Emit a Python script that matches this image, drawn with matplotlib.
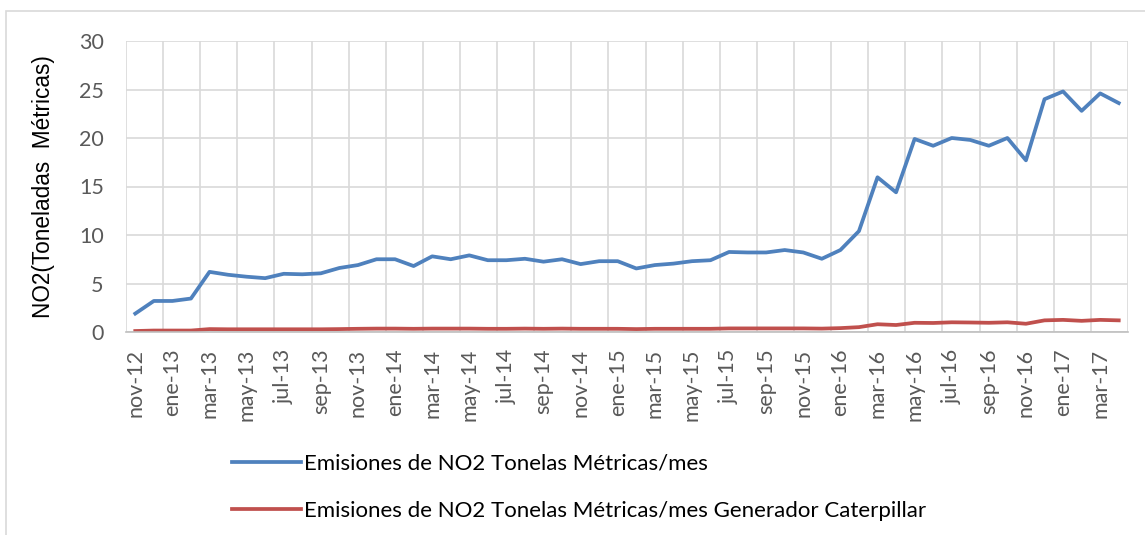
"""NO2 monthly emissions, nov-12 to apr-17."""

import matplotlib
matplotlib.use("Agg")
import matplotlib.pyplot as plt
from matplotlib.patches import Rectangle

months = [
    "nov-12", "dic-12", "ene-13", "feb-13", "mar-13", "abr-13", "may-13", "jun-13",
    "jul-13", "ago-13", "sep-13", "oct-13", "nov-13", "dic-13", "ene-14", "feb-14",
    "mar-14", "abr-14", "may-14", "jun-14", "jul-14", "ago-14", "sep-14", "oct-14",
    "nov-14", "dic-14", "ene-15", "feb-15", "mar-15", "abr-15", "may-15", "jun-15",
    "jul-15", "ago-15", "sep-15", "oct-15", "nov-15", "dic-15", "ene-16", "feb-16",
    "mar-16", "abr-16", "may-16", "jun-16", "jul-16", "ago-16", "sep-16", "oct-16",
    "nov-16", "dic-16", "ene-17", "feb-17", "mar-17", "abr-17",
]

no2_total = [
    1.9, 3.2, 3.2, 3.45, 6.2, 5.9, 5.7, 5.55, 6.0, 5.95, 6.05, 6.6,
    6.9, 7.5, 7.5, 6.8, 7.8, 7.5, 7.9, 7.4, 7.4, 7.55, 7.25, 7.5,
    7.0, 7.3, 7.3, 6.55, 6.9, 7.05, 7.3, 7.4, 8.25, 8.2, 8.2, 8.45,
    8.2, 7.55, 8.45, 10.4, 15.95, 14.4, 19.9, 19.2, 20.0, 19.8, 19.2, 20.0,
    17.7, 24.0, 24.8, 22.8, 24.6, 23.6,
]

no2_caterpillar = [
    0.1, 0.15, 0.15, 0.15, 0.3, 0.28, 0.28, 0.28, 0.28, 0.28, 0.28, 0.3,
    0.33, 0.35, 0.35, 0.33, 0.35, 0.35, 0.35, 0.33, 0.33, 0.35, 0.33, 0.35,
    0.33, 0.33, 0.33, 0.3, 0.33, 0.33, 0.33, 0.33, 0.37, 0.37, 0.37, 0.37,
    0.37, 0.35, 0.4, 0.5, 0.8, 0.72, 0.95, 0.93, 1.0, 0.98, 0.95, 1.0,
    0.85, 1.2, 1.25, 1.15, 1.25, 1.2,
]

label_total = "Emisiones de NO2 Tonelas Métricas/mes"
label_cat = "Emisiones de NO2 Tonelas Métricas/mes Generador Caterpillar"

plt.rcParams["font.family"] = ["Lato", "DejaVu Sans"]

W, H = 1145, 535
fig = plt.figure(figsize=(W / 100, H / 100), dpi=100)
ax = fig.add_axes([126 / W, 1 - 332 / H, (1128 - 126) / W, (332 - 41) / H])

# outer chart-area border (runs off the right and bottom edges)
fig.patches.append(Rectangle((6 / W, -0.1), 1.2, 1 - 11 / H + 0.1,
                             transform=fig.transFigure, fill=False,
                             edgecolor="#d9d9d9", linewidth=1.2))

x = list(range(len(months)))
ax.plot(x, no2_total, color="#4f81bd", linewidth=2.7, label=label_total)
ax.plot(x, no2_caterpillar, color="#c0504d", linewidth=2.7, label=label_cat)

ax.set_xlim(-0.5, len(months) - 0.5)
ax.set_ylim(0, 30)
ax.set_yticks(range(0, 31, 5))
ax.set_xticks(x[::2])
ax.set_xticklabels(months[::2], rotation=90)

for gx in range(0, len(months) + 1, 2):
    ax.axvline(gx - 0.5, color="#d9d9d9", linewidth=1.2, zorder=0)
ax.yaxis.grid(True, color="#d9d9d9", linewidth=1.2, zorder=0)
ax.set_axisbelow(True)

for side in ("top", "right", "left"):
    ax.spines[side].set_visible(False)
ax.spines["bottom"].set_color("#bfbfbf")
ax.spines["bottom"].set_linewidth(1.2)

ax.tick_params(axis="y", length=0, pad=16, labelsize=15.5, labelcolor="#595959")
ax.tick_params(axis="x", length=0, pad=12, labelsize=15.5, labelcolor="#595959")

ax.set_ylabel("NO2(Toneladas  Métricas)", fontsize=16.3, color="black",
              family=["Liberation Sans", "DejaVu Sans"])
ax.yaxis.set_label_coords(-0.071, 0.5)

fig.legend(loc="upper left", bbox_to_anchor=(232 / W, 1 - 454 / H),
           frameon=False, handlelength=3.1, handletextpad=0.15,
           labelspacing=1.2, borderaxespad=0, borderpad=0,
           prop={"size": 16})

fig.savefig("out.png", dpi=100)
